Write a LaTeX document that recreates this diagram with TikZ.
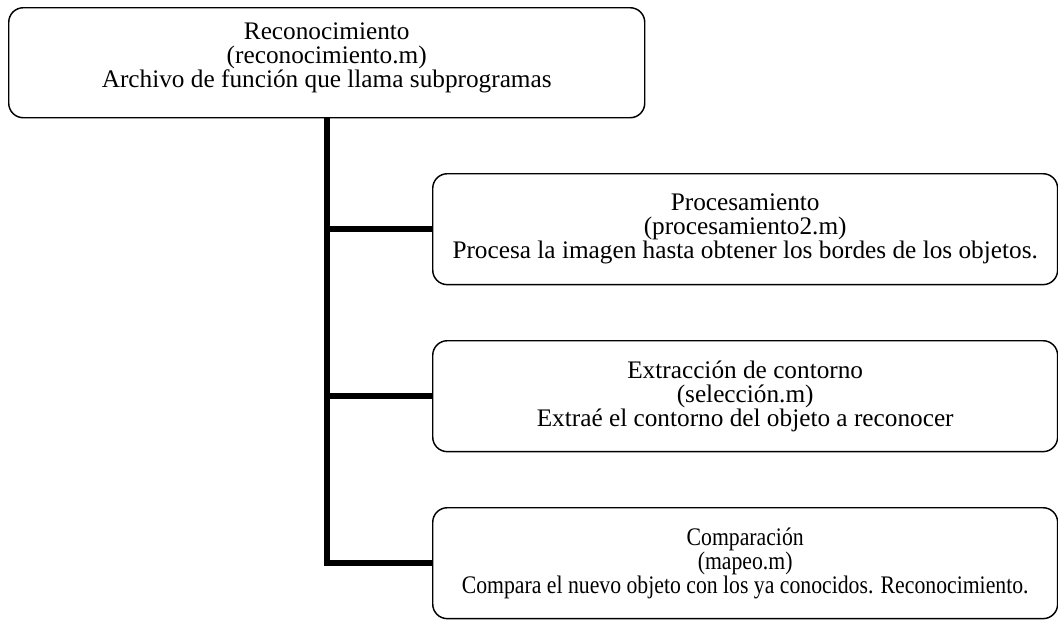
\documentclass[tikz,border=0pt]{standalone}
\usepackage{fontspec}
\setmainfont{Liberation Serif}
\newfontfamily\estrecha[FakeStretch=0.86]{Liberation Serif}
\usetikzlibrary{positioning}
\begin{document}
\begin{tikzpicture}[x=0.55pt,y=-0.55pt,
        caja/.style={draw, line width=0.8pt, rounded corners=8pt, align=center,
            font=\fontsize{13.9}{13.2}\selectfont, inner sep=0pt},
        grande/.style={caja, minimum width=349.8pt, minimum height=60.5pt, text depth=8pt},
        hija/.style={caja, minimum width=343.7pt, minimum height=61pt},
        rama/.style={line width=3.3pt}]
            \useasboundingbox (0,0) rectangle (1058,620);

            % caja principal
            \node[grande, anchor=north west] (reco) at (8,7)
                {Reconocimiento\\(reconocimiento.m)\\Archivo de función que llama subprogramas};

            % subprogramas
            \node[hija, anchor=north west] (proc) at (432,173)
                {Procesamiento\\(procesamiento2.m)\\Procesa la imagen hasta obtener los bordes de los objetos.};
            \node[hija, anchor=north west] (extr) at (432,340)
                {Extracción de contorno\\(selección.m)\\Extraé el contorno del objeto a reconocer};
            \node[hija, anchor=north west] (comp) at (432,507)
                {\estrecha Comparación\\\estrecha (mapeo.m)\\\estrecha Compara el nuevo objeto con los ya conocidos. Reconocimiento.};

            % tronco y ramas
            \coordinate (tronco) at (reco.south);
            \draw[rama] (tronco) |- (comp.west);
            \draw[rama] (tronco |- proc.west) -- (proc.west);
            \draw[rama] (tronco |- extr.west) -- (extr.west);
        \end{tikzpicture}
\end{document}
